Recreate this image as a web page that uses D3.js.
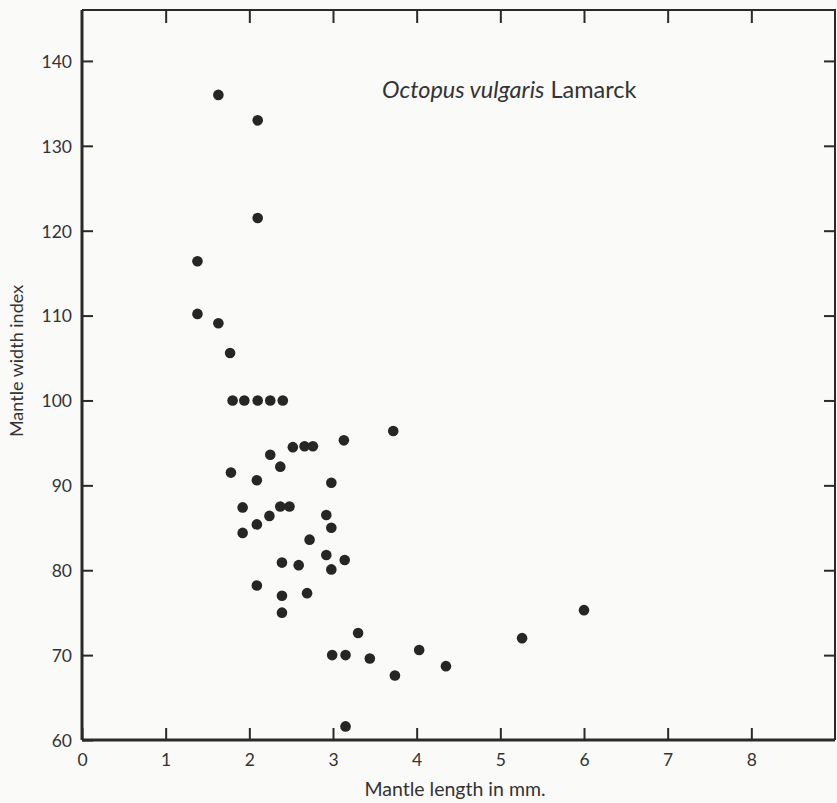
<!DOCTYPE html>
<html>
<head>
<meta charset="utf-8">
<script src="https://cdn.jsdelivr.net/npm/d3@7"></script>
<style>
  body { margin: 0; background: #fafaf8; }
  text { font-family: Lato, "Open Sans", sans-serif; fill: #333; }
</style>
</head>
<body>
<div id="chart"></div>
<script>
// Mantle length (mm) and mantle width index
const mantleLength = [
  1.63, 2.10, 2.10, 1.38, 1.38, 1.63, 1.77,
  1.80, 1.94, 2.10, 2.25, 2.40,
  3.72, 3.13, 2.52, 2.66, 2.76, 2.25, 2.37, 1.78, 2.09, 2.98,
  1.92, 2.37, 2.48, 2.24, 2.92, 2.09, 1.92, 2.98, 2.72,
  2.92, 2.39, 2.59, 3.14, 2.98, 2.09, 2.39, 2.69, 2.39,
  3.30, 2.99, 3.15, 3.44, 4.03, 4.35, 3.74, 3.15, 5.26, 6.00
];
const mantleWidthIndex = [
  136.0, 133.0, 121.5, 116.4, 110.2, 109.1, 105.6,
  100, 100, 100, 100, 100,
  96.4, 95.3, 94.5, 94.6, 94.6, 93.6, 92.2, 91.5, 90.6, 90.3,
  87.4, 87.5, 87.5, 86.4, 86.5, 85.4, 84.4, 85.0, 83.6,
  81.8, 80.9, 80.6, 81.2, 80.1, 78.2, 77.0, 77.3, 75.0,
  72.6, 70.0, 70.0, 69.6, 70.6, 68.7, 67.6, 61.6, 72.0, 75.3
];
const xTicks = [0, 1, 2, 3, 4, 5, 6, 7, 8];
const yTicks = [60, 70, 80, 90, 100, 110, 120, 130, 140];
const speciesName = "Octopus vulgaris";
const authority = "Lamarck";

const width = 837, height = 803;
const margin = { top: 10, right: 2, bottom: 63, left: 82 };
const w = width - margin.left - margin.right;
const h = height - margin.top - margin.bottom;
const ink = "#2a2a2a";

const svg = d3.select("#chart")
  .append("svg")
  .attr("width", width)
  .attr("height", height);

const g = svg.append("g")
  .attr("transform", `translate(${margin.left}, ${margin.top})`);

const x = d3.scaleLinear().domain([0, 9]).range([0, w]);
const y = d3.scaleLinear().domain([60, 146]).range([h, 0]);

// frame: top and right sides, ticks pointing inwards
g.append("path")
  .attr("d", `M0,0H${w}V${h}`)
  .attr("fill", "none")
  .attr("stroke", ink)
  .attr("stroke-width", 2);

g.append("g")
  .call(d3.axisBottom(x).tickValues(xTicks.slice(1)).tickSize(13).tickFormat(""))
  .call(a => a.select(".domain").remove())
  .selectAll("line").attr("stroke", ink).attr("stroke-width", 2);

g.append("g")
  .attr("transform", `translate(${w}, 0)`)
  .call(d3.axisLeft(y).tickValues(yTicks.slice(1)).tickSize(11).tickFormat(""))
  .call(a => a.select(".domain").remove())
  .selectAll("line").attr("stroke", ink).attr("stroke-width", 2);

// bottom axis
const xAxis = g.append("g")
  .attr("transform", `translate(0, ${h})`)
  .call(d3.axisTop(x).tickValues(xTicks).tickSize(12).tickFormat(d3.format("d")));
xAxis.select(".domain").attr("stroke", ink).attr("stroke-width", 3)
  .attr("d", `M0,0H${w}`);
xAxis.selectAll("line").attr("stroke", ink).attr("stroke-width", 2);
xAxis.selectAll("text")
  .attr("y", 26)
  .attr("dy", 0)
  .attr("font-size", 17.5)
  .attr("fill", "#333");

// left axis
const yAxis = g.append("g")
  .call(d3.axisRight(y).tickValues(yTicks).tickSize(11).tickFormat(d3.format("d")));
yAxis.select(".domain").attr("stroke", ink).attr("stroke-width", 3)
  .attr("d", `M0,0V${h}`);
yAxis.selectAll("line").attr("stroke", ink).attr("stroke-width", 2);
yAxis.selectAll("text")
  .attr("x", -10)
  .attr("dy", "0.36em")
  .attr("text-anchor", "end")
  .attr("font-size", 17.5)
  .attr("fill", "#333");

// axis titles
svg.append("text")
  .attr("x", 455)
  .attr("y", 796)
  .attr("text-anchor", "middle")
  .attr("font-size", 19.5)
  .text("Mantle length in mm.");

svg.append("text")
  .attr("transform", "translate(23, 361) rotate(-90)")
  .attr("text-anchor", "middle")
  .attr("font-size", 18)
  .text("Mantle width index");

// species label
const label = svg.append("text")
  .attr("x", 382)
  .attr("y", 98)
  .attr("font-size", 23.5);
label.append("tspan").attr("font-style", "italic").text(speciesName);
label.append("tspan").text(" " + authority);

// points
const points = mantleLength.map((d, i) => ({ len: d, idx: mantleWidthIndex[i] }));

g.selectAll(".dot")
  .data(points)
  .enter()
  .append("circle")
  .attr("class", "dot")
  .attr("cx", d => x(d.len))
  .attr("cy", d => y(d.idx))
  .attr("r", 5.3)
  .attr("fill", "#262626");
</script>
</body>
</html>
